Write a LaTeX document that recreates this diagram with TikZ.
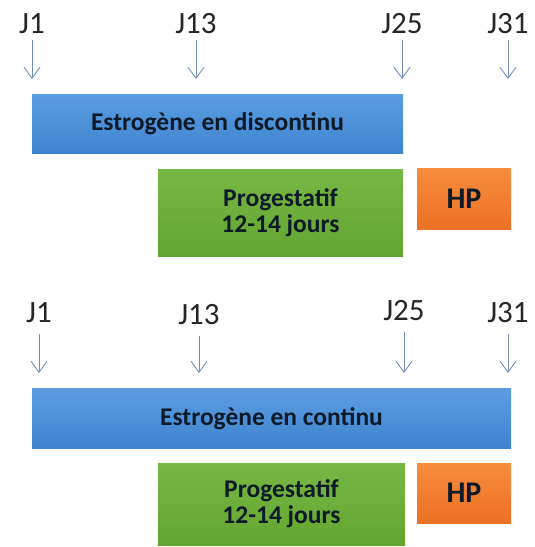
\documentclass[tikz,border=0pt]{standalone}
\usepackage{fontspec}
\setmainfont{Carlito}
\usetikzlibrary{arrows.meta}

\definecolor{arrowblue}{HTML}{6F8FB8}
\definecolor{boxtext}{HTML}{0E1A28}
\definecolor{bluetop}{HTML}{5A9DE2}
\definecolor{bluebot}{HTML}{3F84D0}
\definecolor{greentop}{HTML}{76B843}
\definecolor{greenbot}{HTML}{62A530}
\definecolor{orangetop}{HTML}{F68C3E}
\definecolor{orangebot}{HTML}{EC7124}

\begin{document}
\begin{tikzpicture}[x=1pt, y=-1pt,
    daylabel/.style ={anchor=base, inner sep=0pt, text=black!85,
                      font=\fontsize{31}{31}\selectfont},
    dayarrow/.style ={draw=arrowblue, line width=0.9pt,
                      -{Straight Barb[length=11pt, width=16pt]}},
    phase/.style    ={draw=none, inner sep=0pt, align=center, text=boxtext,
                      font=\bfseries\fontsize{25.5}{26}\selectfont},
    estrogen/.style ={phase, top color=bluetop, bottom color=bluebot},
    progestin/.style={phase, top color=greentop, bottom color=greenbot},
    hp/.style       ={phase, top color=orangetop, bottom color=orangebot,
                      font=\bfseries\fontsize{30}{30}\selectfont}]
   \useasboundingbox (0,0) rectangle (535,547);

   % discontinuous scheme
   \foreach \d/\x in {1/32, 13/196, 25/402, 31/508} {
     \node[daylabel] (a\d) at (\x,33) {J\d};
     \coordinate (a\d tip) at (\x,79);
     \draw[dayarrow, shorten <=7pt] (a\d.south) -- (a\d tip);
   }
   \node[estrogen, minimum width=371pt, minimum height=59pt] (E1) at (217.5,123.5) {Estrogène en discontinu};
   \node[progestin, minimum width=245pt, minimum height=87pt] (P1) at (280.5,212.5) {Progestatif\\12-14 jours};
   \node[hp, minimum width=94pt, minimum height=61pt] (H1) at (464,198.5) {HP};

   % continuous scheme
   \foreach \d/\x/\y in {1/39/322, 13/199/324, 25/404/320, 31/508/322} {
     \node[daylabel] (b\d) at (\x,\y) {J\d};
     \coordinate (b\d tip) at (\x,373);
     \draw[dayarrow, shorten <=12pt] (b\d.south) -- (b\d tip);
   }
   \node[estrogen, minimum width=479pt, minimum height=60pt] (E2) at (271.5,418.5) {Estrogène en continu};
   \node[progestin, minimum width=247pt, minimum height=82pt] (P2) at (281.5,504) {Progestatif\\12-14 jours};
   \node[hp, minimum width=94pt, minimum height=60pt] (H2) at (464,493) {HP};
 \end{tikzpicture}
\end{document}
